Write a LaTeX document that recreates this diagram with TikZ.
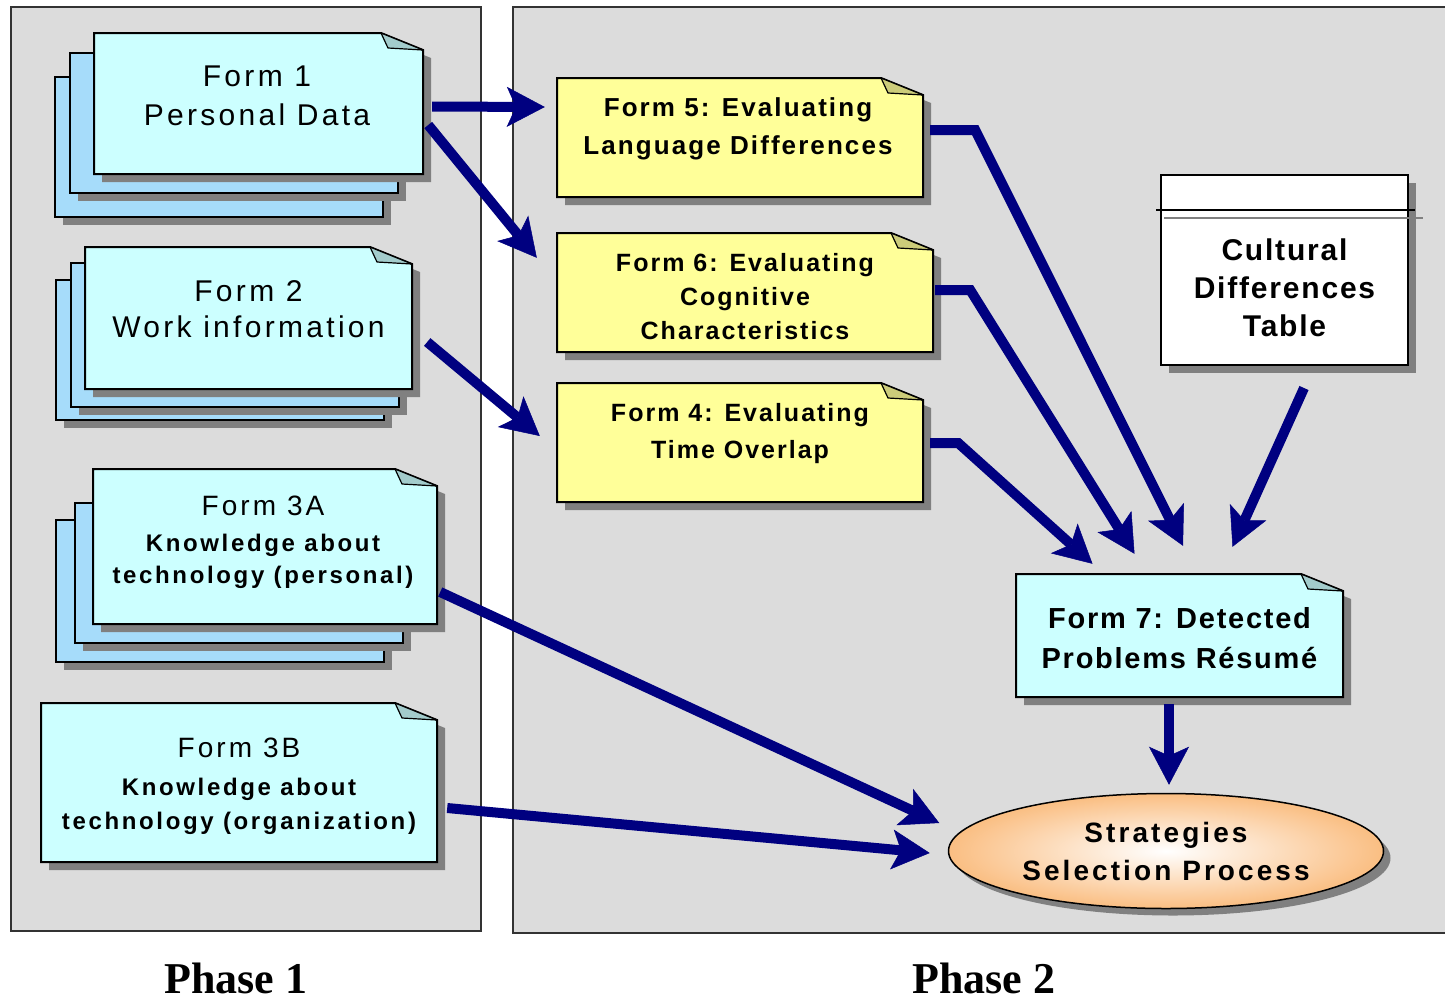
\documentclass[tikz,border=0pt]{standalone}
\usepackage{fontspec}
\setmainfont{Liberation Sans}
\newfontfamily\lsa[LetterSpace=11]{Liberation Sans}
\newfontfamily\lsb[LetterSpace=8]{Liberation Sans}
\newfontfamily\lsc[LetterSpace=6]{Liberation Sans}
\newfontfamily\phasef{Liberation Serif}
\usetikzlibrary{arrows.meta,calc,shapes.geometric}
\definecolor{panelc}{HTML}{DCDCDC}
\definecolor{cyanc}{HTML}{CCFFFF}
\definecolor{bluec}{HTML}{A6DCFA}
\definecolor{yelc}{HTML}{FFFF99}
\definecolor{foldcy}{HTML}{A3CCCC}
\definecolor{foldye}{HTML}{CCCC7A}
\definecolor{shadc}{HTML}{808080}
\definecolor{navyc}{HTML}{000080}
\definecolor{peachc}{RGB}{250,190,130}
\newcommand\notebox[7]{%
  \fill[shadc] ({#2+8},{#3+8}) -- ({#4-42+8},{#3+8}) -- ({#4+8},{#3+17+8}) -- ({#4+8},{#5+8}) -- ({#2+8},{#5+8}) -- cycle;
  \filldraw[fill=#6, draw=black, line width=2pt, line join=miter] (#2,#3) -- ({#4-42},#3) -- (#4,{#3+17}) -- (#4,#5) -- (#2,#5) -- cycle;
  \filldraw[fill=#7, draw=black, line width=1.2pt, line join=round] ({#4-42},#3) -- ({#4-35},{#3+15}) -- (#4,{#3+17}) -- cycle;
  \node[inner sep=0pt, minimum width={(#4-#2)*1pt}, minimum height={(#5-#3)*1pt}] (#1) at ({(#2+#4)/2},{(#3+#5)/2}) {};
}
\newcommand\sheet[4]{%
  \fill[shadc] ({#1+8},{#2+8}) rectangle ({#3+8},{#4+8});
  \filldraw[fill=bluec, draw=black, line width=2pt] (#1,#2) rectangle (#3,#4);
}
\tikzset{
  flow/.style={draw=navyc, line width=10pt, line join=miter,
    -{Stealth[length=38pt,width=40pt,inset=9pt,line width=0.5pt]}},
  txt/.style={align=center, inner sep=0pt, text=black},
  panel/.style={fill=panelc, draw=black!80, line width=2.5pt},
  phaselabel/.style={font=\phasef\bfseries\fontsize{44}{48}\selectfont, inner sep=0pt, text depth=0pt, anchor=base},
}
\begin{document}
\begin{tikzpicture}[x=1pt,y=-1pt]
\useasboundingbox (0,0) rectangle (1445,1002);
\clip (0,0) rectangle (1445,1002);
\fill[white] (0,0) rectangle (1445,1002);
% panels
\filldraw[panel] (11,7) rectangle (481,931);
\filldraw[panel] (513,7) rectangle (1470,933);
% Form 1 stack
\sheet{55}{77}{383}{217}
\sheet{70}{53}{398}{193}
\notebox{f1}{94}{33}{423}{174}{cyanc}{foldcy}
\node[txt, font=\lsa\fontsize{30}{39}\selectfont] (f1t) at (257,95.5) {Form 1\\Personal Data};
% Form 2 stack
\sheet{56}{280}{384}{420}
\sheet{71}{263}{399}{407}
\notebox{f2}{85}{247}{412}{389}{cyanc}{foldcy}
\node[txt, font=\lsa\fontsize{30}{36}\selectfont] (f2t) at (248.5,309) {Form 2\\Work information};
% Form 3A stack
\sheet{56}{520}{384}{662}
\sheet{75}{503}{403}{643}
\notebox{f3a}{93}{469}{437}{624}{cyanc}{foldcy}
\node[txt, font=\lsa\bfseries\fontsize{24}{32}\selectfont] (f3at) at (263,542)
  {{\mdseries\fontsize{28}{32}\selectfont Form 3A}\\[4pt]Knowledge about\\technology (personal)};
% Form 3B
\notebox{f3b}{41}{703}{437}{862}{cyanc}{foldcy}
\node[txt, font=\lsa\bfseries\fontsize{24}{34}\selectfont] (f3bt) at (239,786.5)
  {{\mdseries\fontsize{28}{34}\selectfont Form 3B}\\[4pt]Knowledge about\\technology (organization)};
% Phase 2 forms
\notebox{f5}{557}{78}{923}{197}{yelc}{foldye}
\node[txt, font=\lsb\bfseries\fontsize{26}{38}\selectfont] (f5t) at (738,129) {Form 5: Evaluating\\Language Differences};
\notebox{f6}{557}{233}{933}{352}{yelc}{foldye}
\node[txt, font=\lsb\bfseries\fontsize{25}{34}\selectfont] (f6t) at (745,297) {Form 6: Evaluating\\Cognitive\\Characteristics};
\notebox{f4}{557}{383}{923}{502}{yelc}{foldye}
\node[txt, font=\lsb\bfseries\fontsize{25}{37}\selectfont] (f4t) at (740,434) {Form 4: Evaluating\\Time Overlap};
\notebox{f7}{1016}{574}{1343}{697}{cyanc}{foldcy}
\node[txt, font=\lsc\bfseries\fontsize{29}{40}\selectfont] (f7t) at (1179.5,638) {Form 7: Detected\\Problems Résumé};
% table
\fill[shadc] (1169,183) rectangle (1416,373);
\node[draw=black, fill=white, line width=2pt, minimum width=247pt, minimum height=190pt, inner sep=0pt] (tbl) at (1284.5,270) {};
\draw[black, line width=2pt] (1156,210) -- (1415,210);
\draw[shadc, line width=2pt] (1164,218) -- (1423,218);
\node[txt, font=\lsc\bfseries\fontsize{30}{38}\selectfont] (tblt) at (1284.5,288) {Cultural\\Differences\\Table};
% ellipse
\fill[shadc] (1173,858) ellipse [x radius=217.5, y radius=57.5];
\node[ellipse, draw=black, line width=1.5pt, shading=radial, inner color=white, outer color=peachc,
  minimum width=435pt, minimum height=115pt, inner sep=0pt, align=center,
  font=\lsa\bfseries\fontsize{28}{38}\selectfont] (ssp) at (1166,851) {Strategies\\Selection Process};
% arrows
\draw[flow] ($(f1.east)+(9,3)$) -- ($(f5.west)+(-12,-30.5)$);
\draw[flow] ($(f1.east)+(5,21.5)$) -- ($(f6.north west)+(-20,25)$);
\draw[flow] ($(f2.east)+(15,24)$) -- ($(f4.west)+(-17,-6.5)$);
\draw[flow] ($(f5.east)+(7,-7.5)$) -- ($(f5.east)+(52,-7.5)$) -- ($(f7.north)+(3.5,-28)$);
\draw[flow] ($(f6.east)+(2,-2.5)$) -- ($(f6.east)+(37,-2.5)$) -- ($(f7.north)+(-45,-20)$);
\draw[flow] ($(f4.east)+(7,0.5)$) -- ($(f4.east)+(35,0.5)$) -- ($(f7.north)+(-87,-10)$);
\draw[flow] ($(tbl.south)+(19.5,22)$) -- ($(f7.north)+(53,-27)$);
\draw[flow] ($(f7.south)+(-10.5,7)$) -- ($(ssp.north)+(3,-8)$);
\draw[flow] ($(f3a.east)+(3,45.5)$) -- ($(ssp.west)+(-8.5,-28)$);
\draw[flow] ($(f3b.east)+(10,25.5)$) -- ($(ssp.west)+(-18,2)$);
% phase labels
\node[phaselabel] (ph1) at (236,993) {Phase 1};
\node[phaselabel] (ph2) at (984,993) {Phase 2};
\end{tikzpicture}
\end{document}
